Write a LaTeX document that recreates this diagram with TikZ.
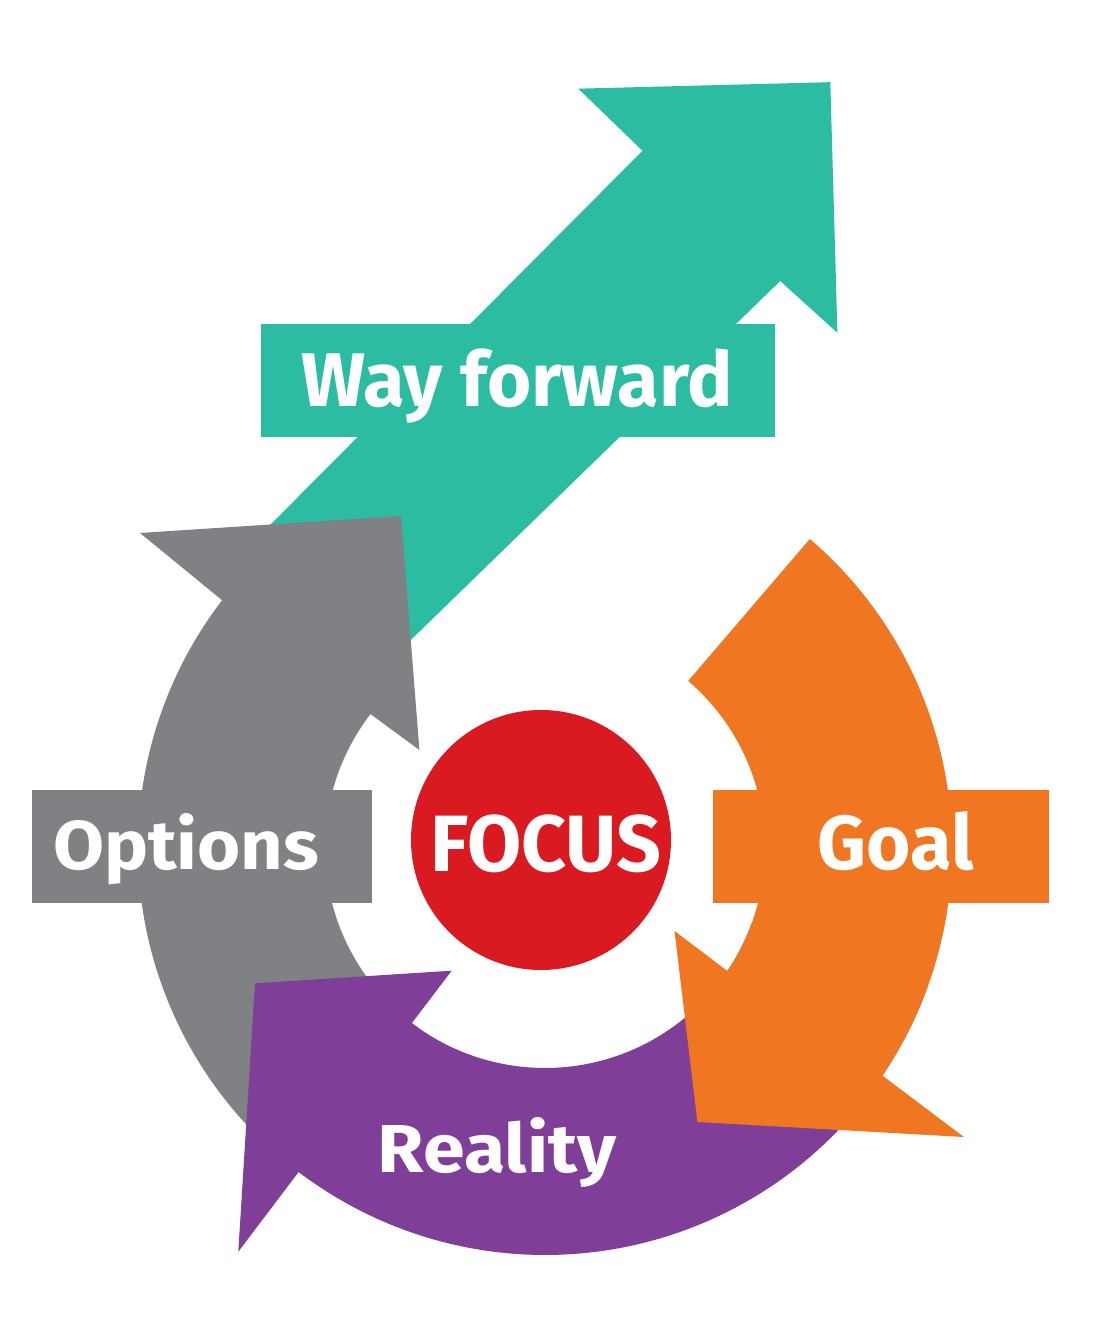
\documentclass[tikz,border=0pt]{standalone}
\usepackage{fontspec}
\setmainfont{Fira Sans}
\usepackage{graphicx}
\usetikzlibrary{calc}
\definecolor{wfteal}{RGB}{43,188,161}
\definecolor{wfgrey}{RGB}{128,129,133}
\definecolor{wforange}{RGB}{240,118,34}
\definecolor{wfpurple}{RGB}{127,62,151}
\definecolor{wfred}{RGB}{218,26,33}
\begin{document}
\begin{tikzpicture}[x=1pt,y=1pt,
  lbl/.style={anchor=base, inner sep=0pt, text=white, font=\bfseries}]
\fill[white] (0,0) rectangle (1096,1337);
\useasboundingbox (0,0) rectangle (1096,1337);
\coordinate (C) at (545,489);
% Way forward (teal)
\fill[wfteal] (578.3,1248.3) -- (830.3,1254.8) -- (837.4,1004.2) -- (780.2,1056)
  -- (405,691.4) -- (260.4,802.2) -- (642.5,1186.2) -- cycle;
\fill[wfteal] (261,899.6) rectangle (775.2,1012.6);
% Options (grey)
\fill[wfgrey] ($(C)+(142.5:407)$) -- (140,804) -- (401,821) -- (419.4,587)
  -- ($(C)+(142.5:220)$) arc[start angle=142.5, end angle=235, radius=220]
  -- ($(C)+(235:407)$) arc[start angle=235, end angle=142.5, radius=407] -- cycle;
\fill[wfgrey] (32,434) rectangle (372,547);
% Reality (purple)
\fill[wfpurple] ($(C)+(232.75:220)$) -- (451.7,366.3) -- (255,353.7) -- (238.3,85.3)
  -- ($(C)+(232.75:407)$) arc[start angle=232.75, end angle=340, radius=407]
  -- ($(C)+(340:220)$) arc[start angle=340, end angle=232.75, radius=220] -- cycle;
% Goal (orange)
\fill[wforange] ($(C)+(49.4:407)$) arc[start angle=49.4, end angle=-34, radius=407]
  -- (963.8,200) -- (697.4,215) -- (674.5,406)
  -- ($(C)+(-34:220)$) arc[start angle=-34, end angle=49.4, radius=220] -- cycle;
\fill[wforange] (713,434) rectangle (1049,546.7);
% Focus
\node[circle, fill=wfred, minimum size=260pt, inner sep=0pt] (focus) at (541,497) {};
% Labels
\node[lbl] (wf) at (517,930.3) {\resizebox{431pt}{57.7pt}{Way forward}};
\node[lbl] (opt) at (186,467) {\resizebox{266pt}{56pt}{Options}};
\node[lbl] (foc) at (545.8,465.3) {\resizebox{231pt}{56.7pt}{FOCUS}};
\node[lbl] (goal) at (895.8,467) {\resizebox{156pt}{58pt}{Goal}};
\node[lbl] (real) at (497,164) {\resizebox{238pt}{55pt}{Reality}};
\end{tikzpicture}
\end{document}
